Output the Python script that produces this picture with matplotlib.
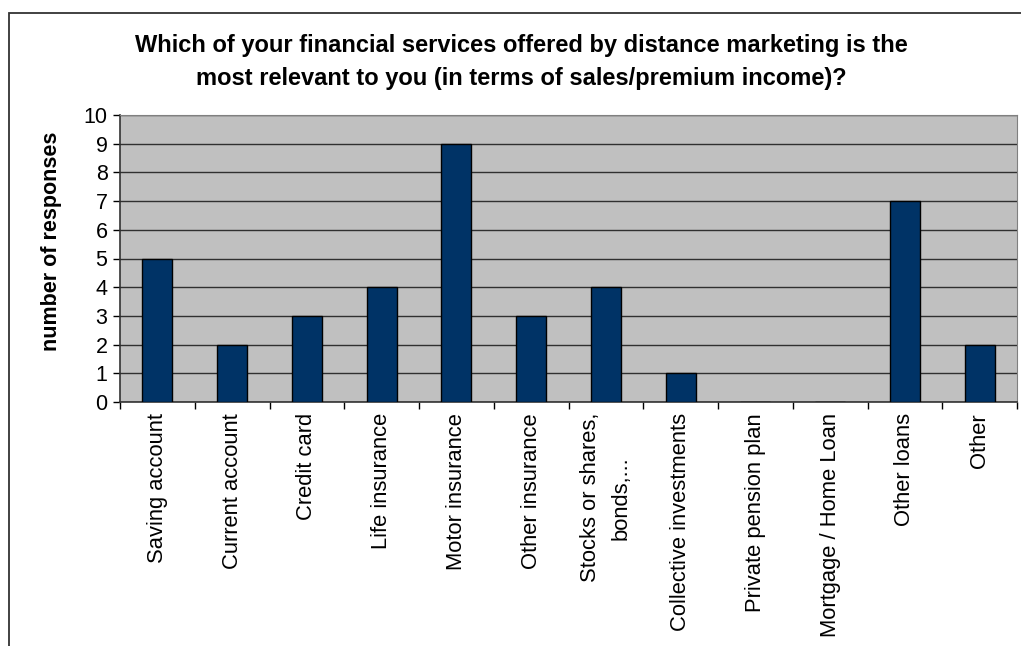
import matplotlib.pyplot as plt
from matplotlib.patches import Rectangle
import numpy as np

plt.rcParams['font.family'] = ['Liberation Sans', 'DejaVu Sans']

categories = ['Saving account', 'Current account', 'Credit card', 'Life insurance',
              'Motor insurance', 'Other insurance', 'Stocks or shares,\nbonds,...',
              'Collective investments', 'Private pension plan', 'Mortgage / Home Loan',
              'Other loans', 'Other']
responses = [5, 2, 3, 4, 9, 3, 4, 1, 0, 0, 7, 2]
yticks = list(range(0, 11))

title = ('Which of your financial services offered by distance marketing is the\n'
         'most relevant to you (in terms of sales/premium income)?')

fig = plt.figure(figsize=(10.21, 6.46), dpi=100)

# outer chart frame (right and bottom run off the edge)
fig.patches.append(Rectangle((9 / 1021, -0.05), 1.1, 1 - 13 / 646 + 0.05,
                             transform=fig.transFigure, fill=False,
                             edgecolor='#333333', linewidth=1.3))

ax = fig.add_axes([120 / 1021, 1 - 402 / 646, (1017 - 120) / 1021, (402 - 115) / 646])
ax.set_facecolor('#C0C0C0')

x = np.arange(len(categories))
ax.bar(x, responses, width=0.4, color='#003366', edgecolor='black', linewidth=1.0, zorder=3)

ax.set_xlim(-0.5, len(categories) - 0.5)
ax.set_ylim(0, 10)
ax.set_yticks(yticks)
ax.set_yticklabels([str(t) for t in yticks], fontsize=15.5)
ax.yaxis.grid(True, color='#303030', linewidth=1.0, zorder=1)

# x ticks sit on category boundaries, labels centred under bars
ax.set_xticks(np.arange(len(categories) + 1) - 0.5)
ax.set_xticklabels([])
ax.set_xticks(x, minor=True)
ax.set_xticklabels(categories, minor=True, rotation=90, fontsize=15.8,
                   va='top', ha='center', linespacing=1.55)
ax.tick_params(axis='x', which='minor', length=0, pad=8)
ax.tick_params(axis='x', which='major', length=5, width=1, direction='out')
ax.tick_params(axis='y', length=5, width=1, direction='out', pad=4)

for side in ['top', 'right']:
    ax.spines[side].set_color('#808080')
for side in ['left', 'bottom']:
    ax.spines[side].set_color('#333333')
    ax.spines[side].set_linewidth(1.2)

ax.set_ylabel('number of responses', fontsize=15.5, fontweight='bold')
ax.yaxis.label.set_verticalalignment('center')
ax.yaxis.set_label_coords(-68 / 897, 0.559)

fig.text(521 / 1021, 1 - 62 / 646, title, ha='center', va='center',
         fontsize=17, fontweight='bold', linespacing=1.6)

fig.savefig('out.png', dpi=100)
